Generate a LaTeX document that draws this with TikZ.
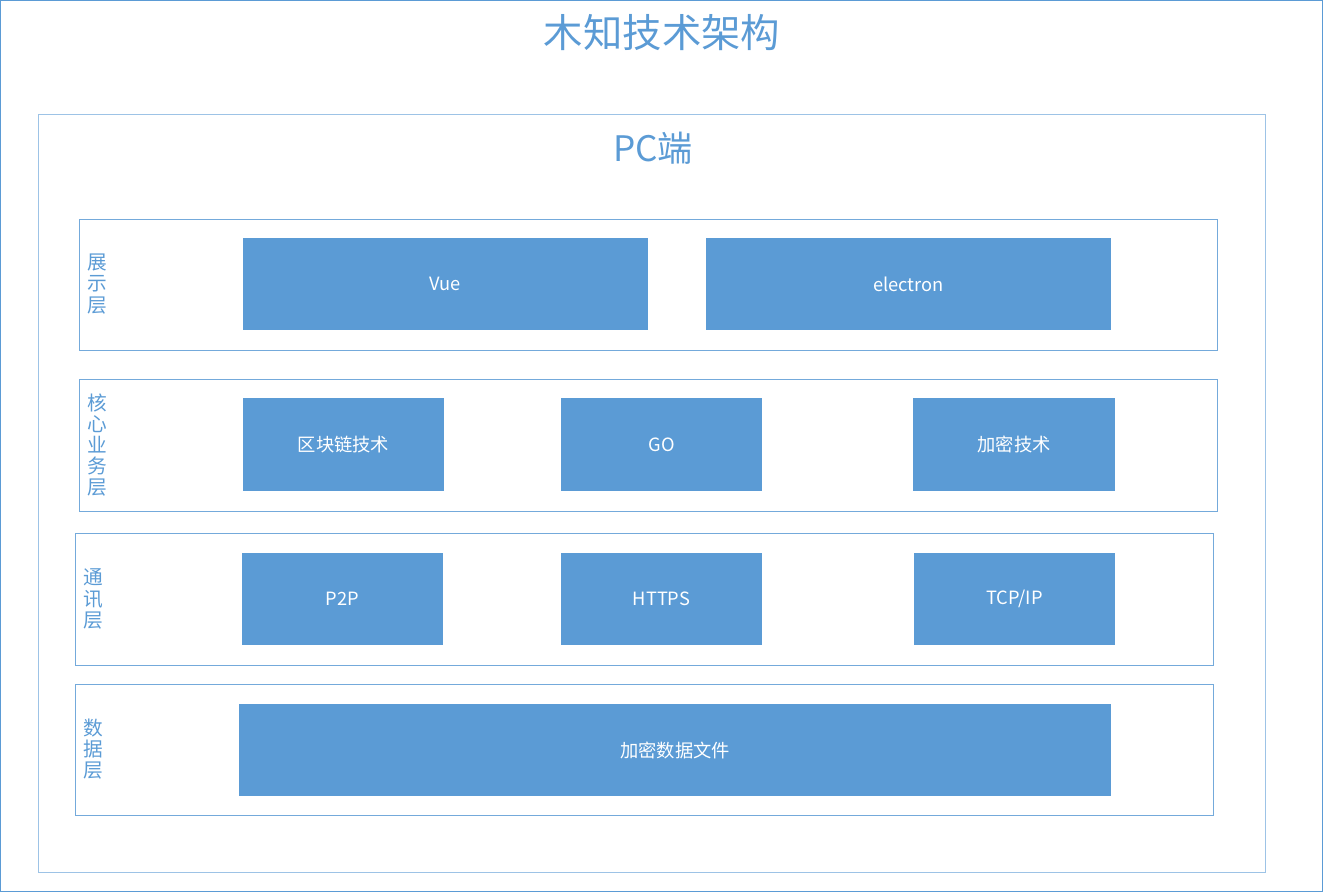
\documentclass[tikz,border=0pt]{standalone}
\usepackage{fontspec}
\setmainfont{Noto Sans CJK SC}
\usetikzlibrary{positioning}
\definecolor{mzblue}{HTML}{5B9BD5}
\definecolor{mzlight}{HTML}{9DC3E6}

\begin{document}
\begin{tikzpicture}[x=0.025cm, y=-0.025cm,
	frame/.style={draw=mzblue, line width=0.6pt, inner sep=0pt},
	layer/.style={draw=mzblue!85, line width=0.6pt, inner sep=0pt, minimum width=28.425cm, minimum height=3.3cm},
	block/.style={fill=mzblue, text=white, inner sep=0pt, minimum height=2.3cm, font=\fontsize{13}{14}\selectfont},
	side/.style={text=mzblue, align=center, inner sep=0pt, font=\fontsize{14}{15}\selectfont}
	]
	
	\useasboundingbox (0,0) rectangle (1324,893);
	
	\node[frame, minimum width=33.025cm, minimum height=22.25cm] (all) at (661.5,446) {};
	\node[text=mzblue, font=\fontsize{28}{30}\selectfont] (title) at (662,33) {木知技术架构};
	
	\node[frame, draw=mzlight, minimum width=30.65cm, minimum height=18.925cm] (pc) at (652,493.5) {};
	\node[text=mzblue, font=\fontsize{25}{27}\selectfont] (pctitle) at (653,148) {PC端};
	
	% layers
	\node[layer, minimum height=3.275cm] (show) at (648.5,284.5) {};
	\node[layer] (core) at (648.5,445) {};
	\node[layer] (comm) at (644.5,599) {};
	\node[layer, minimum height=3.275cm] (data) at (644.5,749.5) {};
	
	\node[side] (showlbl) at (97,284) {展\\示\\层};
	\node[side] (corelbl) at (97,445) {核\\心\\业\\务\\层};
	\node[side] (commlbl) at (93,599) {通\\讯\\层};
	\node[side] (datalbl) at (93,749) {数\\据\\层};
	
	% blocks
	\node[block, minimum width=10.125cm] (vue) at (445.5,284) {Vue};
	\node[block, minimum width=10.125cm] (electron) at (908.5,284) {electron};
	
	\node[block, minimum width=5.025cm] (chain) at (343.5,444.5) {区块链技术};
	\node[block, minimum width=5.025cm] (go) at (661.5,444.5) {GO};
	\node[block, minimum width=5.025cm] (crypto) at (1014,444.5) {加密技术};
	
	\node[block, minimum width=5.025cm] (p2p) at (342.5,599) {P2P};
	\node[block, minimum width=5.025cm] (https) at (661.5,599) {HTTPS};
	\node[block, minimum width=5.025cm] (tcpip) at (1014.5,599) {TCP/IP};
	
	\node[block, minimum width=21.8cm] (files) at (675,750) {加密数据文件};
	
\end{tikzpicture}
\end{document}
